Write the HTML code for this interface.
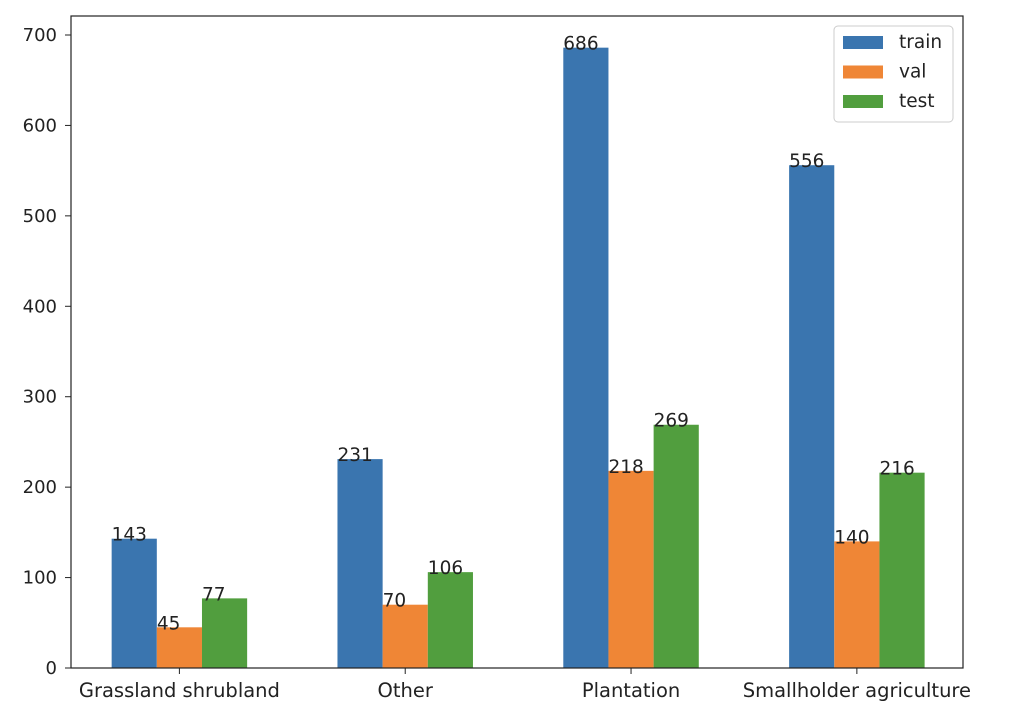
<!DOCTYPE html>
<html><head><meta charset="utf-8"><style>
body{margin:0;background:#fff;}
svg text{font-family:"DejaVu Sans","Liberation Sans",sans-serif;fill:#222;}
</style></head><body>
<svg id="chart" width="1014" height="716">
<g id="marks"></g>
</svg>
<script>
const categories=["Grassland shrubland","Other","Plantation","Smallholder agriculture"];
const trainVals=[143,231,686,556];
const valVals=[45,70,218,140];
const testVals=[77,106,269,216];
const yTicks=[0,100,200,300,400,500,600,700];
const seriesNames=["train","val","test"];
const colors=["#3a75af","#ef8636","#519e3e"];
const L=71,R=963,T=16,B=668;
const xMin=-0.48,xMax=3.47;
function xs(v){return L+(v-xMin)/(xMax-xMin)*(R-L);}
function ys(v){return B-v*(B-35)/700;}
const svg=document.getElementById('chart');
const NS="http://www.w3.org/2000/svg";
function mk(tag,attrs,txt){const e=document.createElementNS(NS,tag);for(const k in attrs)e.setAttribute(k,attrs[k]);if(txt!==undefined)e.textContent=txt;svg.appendChild(e);return e;}
const series=[trainVals,valVals,testVals];
const w=0.2;
series.forEach((vals,s)=>{
  vals.forEach((v,i)=>{
    const x0=xs(i+(s-1)*w-w/2),x1=xs(i+(s-1)*w+w/2);
    const r=mk('rect',{x:x0,y:ys(v),width:x1-x0,height:B-ys(v),fill:colors[s]});
    
    
    const t=mk('text',{x:x0,y:ys(v)+2,'font-size':18.5},String(v));
    
    
  });
});
const frame=mk('rect',{x:L,y:T,width:R-L,height:B-T,fill:'none',stroke:'#222','stroke-width':1.2});


yTicks.forEach(v=>{
  mk('line',{x1:L-6,x2:L,y1:ys(v),y2:ys(v),stroke:'#222'});
  const t=mk('text',{x:L-14,y:ys(v)+6,'font-size':18,'text-anchor':'end'},String(v));
  
  
});
categories.forEach((c,i)=>{
  mk('line',{x1:xs(i),x2:xs(i),y1:B,y2:B+6,stroke:'#222'});
  const t=mk('text',{x:xs(i),y:B+29,'font-size':19.5,'text-anchor':'middle'},c);
  
  
});
const lg=mk('rect',{x:834,y:26,width:119,height:96,rx:4,fill:'#fff',stroke:'#ccc'});


seriesNames.forEach((n,s)=>{
  const y=42+s*29.5;
  mk('rect',{x:843,y:y-6,width:40,height:13,fill:colors[s]});
  const t=mk('text',{x:899,y:y+6,'font-size':18.5},n);
  
  
});
</script>
</body></html>
